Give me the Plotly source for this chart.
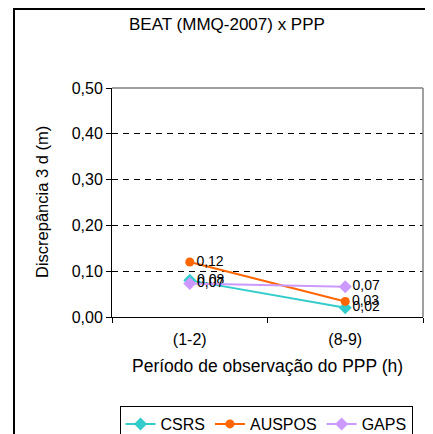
import plotly.graph_objects as go

categories = ["(1-2)", "(8-9)"]
csrs = [0.08, 0.02]
auspos = [0.12, 0.034]
gaps = [0.073, 0.066]
y_ticks = [0.0, 0.1, 0.2, 0.3, 0.4, 0.5]

# page body has an 8px margin, so the figure is drawn offset by (8, 8)
OFF = 8
W, H = 433, 434
PLOT_L, PLOT_R, PLOT_T, PLOT_B = 112, 423, 88, 317  # target window pixels
L = PLOT_L - OFF
T = PLOT_T - OFF
R = W - (PLOT_R - OFF)
B = H - (PLOT_B - OFF)
PW, PH = W - L - R, H - T - B


def px_x(px):
    return (px - OFF - L) / PW


def px_y(py):
    return (H - B - (py - OFF)) / PH


def lab(v):
    return [f"{x:.2f}".replace(".", ",") for x in v]


FONT = "Liberation Sans, Arial, sans-serif"

fig = go.Figure()
series = [
    ("CSRS", csrs, "#33CCCC", "diamond", 10),
    ("AUSPOS", auspos, "#FF6600", "circle", 9),
    ("GAPS", gaps, "#CC99FF", "diamond", 10),
]
for name, vals, col, sym, sz in series:
    fig.add_trace(go.Scatter(
        x=categories, y=vals, name=name, mode="lines+markers+text",
        line=dict(color=col, width=2),
        marker=dict(color=col, symbol=sym, size=sz),
        text=lab(vals), textposition="middle right",
        textfont=dict(size=14, color="#000000", family=FONT),
        cliponaxis=False,
    ))

fig.update_layout(
    width=W, height=H,
    margin=dict(l=L, r=R, t=T, b=B, autoexpand=False),
    paper_bgcolor="white", plot_bgcolor="white",
    separators=",.",
    font=dict(family=FONT, size=16, color="#000000"),
    showlegend=True,
    legend=dict(
        orientation="h", x=px_x(266), xanchor="center",
        y=px_y(406), yanchor="top",
        bordercolor="#000000", borderwidth=1, bgcolor="white",
        font=dict(size=16, family=FONT),
        itemsizing="trace",
    ),
    xaxis=dict(
        type="category", range=[-0.5, 1.5],
        showline=True, linecolor="#000000", linewidth=1,
        ticks="outside", ticklen=5, tickcolor="#000000", tickson="boundaries",
        showgrid=False, zeroline=False, ticklabelstandoff=8,
        tickfont=dict(size=16), automargin=False,
    ),
    yaxis=dict(
        range=[0, 0.5], tickvals=y_ticks, tickformat=".2f",
        showline=True, linecolor="#000000", linewidth=1,
        ticks="outside", ticklen=5, tickcolor="#000000",
        showgrid=True, gridcolor="#000000", gridwidth=1, griddash="6px,5px",
        zeroline=False, tickfont=dict(size=16), automargin=False,
    ),
    annotations=[
        dict(text="BEAT (MMQ-2007) x PPP", xref="paper", yref="paper",
             x=px_x(227), y=px_y(24), xanchor="center", yanchor="middle",
             showarrow=False, font=dict(size=17)),
        dict(text="Período de observação do PPP (h)", xref="paper", yref="paper",
             x=px_x(267), y=px_y(366), xanchor="center", yanchor="middle",
             showarrow=False, font=dict(size=17.5)),
        dict(text="Discrepância 3 d (m)", xref="paper", yref="paper",
             x=px_x(42), y=px_y(202), xanchor="center", yanchor="middle",
             textangle=-90, showarrow=False, font=dict(size=16.5)),
    ],
    shapes=[
        dict(type="line", xref="paper", yref="paper", x0=0, x1=1, y0=1, y1=1,
             line=dict(color="#808080", width=1.5), layer="above"),
        dict(type="line", xref="paper", yref="paper", x0=1, x1=1, y0=0, y1=1,
             line=dict(color="#808080", width=1.5), layer="above"),
        dict(type="rect", xref="paper", yref="paper",
             x0=px_x(14), x1=px_x(470), y0=px_y(470), y1=px_y(9),
             line=dict(color="#000000", width=2), layer="below"),
    ],
)

fig.write_html("out.html")
